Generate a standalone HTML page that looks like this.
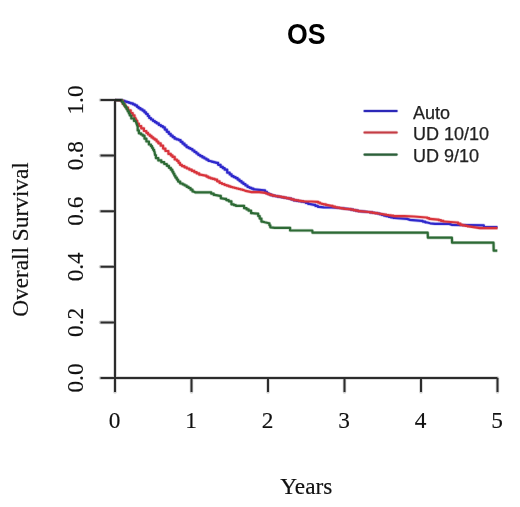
<!DOCTYPE html>
<html><head><meta charset="utf-8"><title>OS</title>
<style>html,body{margin:0;padding:0;background:#fff;width:520px;height:507px;overflow:hidden}svg{display:block;will-change:transform}</style>
</head><body>
<svg width="520" height="507" viewBox="0 0 520 507"><rect width="520" height="507" fill="#fff"/><text transform="translate(306.3,43.7) scale(0.97,1.05)" x="0" y="0" font-family="Liberation Sans, sans-serif" font-weight="bold" font-size="27.5" text-anchor="middle" fill="#000">OS</text><path d="M115.0 378.0H497.5M115.0 100.0V378.0M115.0 378.0V392M191.5 378.0V392M268.0 378.0V392M344.5 378.0V392M421.0 378.0V392M497.5 378.0V392M100.5 378.0H115.0M100.5 322.4H115.0M100.5 266.8H115.0M100.5 211.2H115.0M100.5 155.6H115.0M100.5 100.0H115.0" stroke="#2c2c2c" stroke-opacity="0.22" stroke-width="3.6" fill="none" stroke-linecap="round"/><path d="M115.0 378.0H497.5M115.0 100.0V378.0M115.0 378.0V392M191.5 378.0V392M268.0 378.0V392M344.5 378.0V392M421.0 378.0V392M497.5 378.0V392M100.5 378.0H115.0M100.5 322.4H115.0M100.5 266.8H115.0M100.5 211.2H115.0M100.5 155.6H115.0M100.5 100.0H115.0" stroke="#2c2c2c" stroke-width="2.0" fill="none" stroke-linecap="butt"/><g font-family="Liberation Serif, serif" font-size="23.3" text-anchor="middle" fill="#111" stroke="#111" stroke-width="0.15"><text x="114.5" y="427.8">0</text><text x="191.0" y="427.8">1</text><text x="267.5" y="427.8">2</text><text x="344.0" y="427.8">3</text><text x="420.5" y="427.8">4</text><text x="497.0" y="427.8">5</text><text transform="translate(82.6,378.0) rotate(-90)" x="0" y="0">0.0</text><text transform="translate(82.6,322.4) rotate(-90)" x="0" y="0">0.2</text><text transform="translate(82.6,266.8) rotate(-90)" x="0" y="0">0.4</text><text transform="translate(82.6,211.2) rotate(-90)" x="0" y="0">0.6</text><text transform="translate(82.6,155.6) rotate(-90)" x="0" y="0">0.8</text><text transform="translate(82.6,100.0) rotate(-90)" x="0" y="0">1.0</text><text transform="translate(306.3,494)" x="0" y="0">Years</text><text transform="translate(27.8,239.5) rotate(-90)" x="0" y="0">Overall Survival</text></g><polyline points="115.0,100.0 121.0,100.0 122.2,100.0 122.2,100.8 123.5,100.8 124.7,100.8 124.7,101.6 125.9,101.6 126.9,101.6 126.9,102.2 127.9,102.2 128.9,102.2 128.9,102.8 129.8,102.8 130.8,102.8 130.8,103.4 131.8,103.4 132.9,103.4 132.9,104.3 133.9,104.3 134.9,104.3 134.9,105.3 136.0,105.3 136.9,105.3 136.9,106.8 137.8,106.8 138.6,106.8 138.6,108.2 139.5,108.2 140.5,108.2 140.5,109.4 141.5,109.4 142.5,109.4 142.5,110.6 143.5,110.6 144.4,110.6 144.4,112.3 145.2,112.3 146.1,112.3 146.1,114.0 147.0,114.0 147.8,114.0 147.8,116.0 148.5,116.0 149.2,116.0 149.2,118.0 150.0,118.0 151.0,118.0 151.0,119.5 152.0,119.5 153.0,119.5 153.0,121.0 154.0,121.0 154.9,121.0 154.9,122.2 155.8,122.2 156.6,122.2 156.6,123.3 157.5,123.3 158.8,123.3 158.8,125.0 160.0,125.0 160.9,125.0 160.9,126.2 161.9,126.2 162.9,126.2 162.9,127.3 163.8,127.3 164.8,127.3 164.8,129.6 165.8,129.6 166.8,129.6 166.8,131.8 167.8,131.8 168.8,131.8 168.8,133.8 169.8,133.8 170.7,133.8 170.7,135.7 171.7,135.7 172.7,135.7 172.7,137.2 173.6,137.2 174.6,137.2 174.6,138.7 175.6,138.7 176.6,138.7 176.6,139.4 177.6,139.4 178.6,139.4 178.6,140.1 179.6,140.1 180.6,140.1 180.6,141.8 181.6,141.8 182.5,141.8 182.5,143.6 183.5,143.6 184.5,143.6 184.5,145.3 185.5,145.3 186.5,145.3 186.5,147.1 187.5,147.1 188.5,147.1 188.5,148.1 189.4,148.1 190.4,148.1 190.4,149.0 191.4,149.0 192.4,149.0 192.4,150.5 193.4,150.5 194.4,150.5 194.4,152.0 195.4,152.0 196.4,152.0 196.4,153.5 197.4,153.5 198.3,153.5 198.3,155.0 199.3,155.0 200.3,155.0 200.3,156.2 201.4,156.2 202.4,156.2 202.4,157.4 203.4,157.4 204.4,157.4 204.4,158.5 205.4,158.5 206.4,158.5 206.4,159.7 207.3,159.7 208.3,159.7 208.3,160.8 209.3,160.8 210.9,161.3 211.9,161.3 211.9,161.8 212.9,161.8 213.9,161.8 213.9,162.3 214.8,162.3 215.8,162.3 215.8,162.8 216.8,162.8 218.1,162.8 218.1,164.8 219.3,164.8 220.6,164.8 220.6,166.8 221.8,166.8 222.8,166.8 222.8,168.2 223.8,168.2 224.7,168.2 224.7,169.7 225.7,169.7 227.2,169.7 227.2,172.7 228.7,172.7 229.7,172.7 229.7,174.4 230.6,174.4 231.6,174.4 231.6,176.1 232.6,176.1 233.6,176.1 233.6,177.1 234.6,177.1 235.6,177.1 235.6,178.1 236.6,178.1 237.6,178.1 237.6,179.6 238.6,179.6 239.5,179.6 239.5,181.1 240.5,181.1 241.5,181.1 241.5,182.6 242.4,182.6 243.4,182.6 243.4,184.0 244.4,184.0 245.4,184.0 245.4,185.5 246.4,185.5 247.5,185.5 247.5,187.0 248.5,187.0 249.5,187.0 249.5,187.8 250.5,187.8 251.4,187.8 251.4,188.6 252.4,188.6 253.4,188.6 253.4,189.4 254.4,189.4 259.2,189.9 264.0,190.4 265.0,190.4 265.0,191.9 265.9,191.9 266.9,191.9 266.9,193.3 267.9,193.3 268.8,193.3 268.8,194.2 269.8,194.2 270.8,194.2 270.8,195.2 271.7,195.2 272.8,195.2 272.8,195.7 274.0,195.7 275.1,195.7 275.1,196.1 276.2,196.1 277.4,196.1 277.4,196.6 278.5,196.6 284.2,197.6 290.0,198.6 291.2,198.6 291.2,199.5 292.5,199.5 293.8,199.5 293.8,200.4 295.0,200.4 296.2,200.4 296.2,200.8 297.4,200.8 298.6,200.8 298.6,201.2 299.8,201.2 301.0,201.2 301.0,201.6 302.2,201.6 303.4,201.6 303.4,202.0 304.6,202.0 305.8,202.0 305.8,202.9 307.0,202.9 308.2,202.9 308.2,203.9 309.4,203.9 314.2,204.9 315.4,204.9 315.4,205.9 316.6,205.9 317.8,205.9 317.8,206.8 319.0,206.8 323.8,207.3 331.5,207.5 340.0,208.0 349.6,209.1 350.8,209.1 350.8,209.6 352.0,209.6 353.2,209.6 353.2,210.1 354.4,210.1 355.6,210.1 355.6,210.6 356.8,210.6 358.0,210.6 358.0,211.1 359.2,211.1 368.8,212.0 370.0,212.0 370.0,212.4 371.2,212.4 372.4,212.4 372.4,212.8 373.6,212.8 374.9,212.8 374.9,213.1 376.1,213.1 377.3,213.1 377.3,213.5 378.5,213.5 379.6,213.5 379.6,214.2 380.7,214.2 381.8,214.2 381.8,214.9 382.8,214.9 383.9,214.9 383.9,215.6 385.0,215.6 386.2,215.6 386.2,216.2 387.4,216.2 388.6,216.2 388.6,216.8 389.8,216.8 391.0,216.8 391.0,217.4 392.2,217.4 393.4,217.4 393.4,218.0 394.6,218.0 407.1,218.9 410.0,219.9 421.5,220.9 422.7,220.9 422.7,221.6 423.9,221.6 425.1,221.6 425.1,222.3 426.3,222.3 430.2,223.3 435.0,223.8 449.2,223.9 452.1,224.9 483.8,225.4 484.0,227.1 497.5,227.1" fill="none" stroke="#2e28cc" stroke-opacity="0.25" stroke-width="3.6" stroke-linejoin="round"/><polyline points="115.0,100.0 121.0,100.0 122.2,100.0 122.2,100.8 123.5,100.8 124.7,100.8 124.7,101.6 125.9,101.6 126.9,101.6 126.9,102.2 127.9,102.2 128.9,102.2 128.9,102.8 129.8,102.8 130.8,102.8 130.8,103.4 131.8,103.4 132.9,103.4 132.9,104.3 133.9,104.3 134.9,104.3 134.9,105.3 136.0,105.3 136.9,105.3 136.9,106.8 137.8,106.8 138.6,106.8 138.6,108.2 139.5,108.2 140.5,108.2 140.5,109.4 141.5,109.4 142.5,109.4 142.5,110.6 143.5,110.6 144.4,110.6 144.4,112.3 145.2,112.3 146.1,112.3 146.1,114.0 147.0,114.0 147.8,114.0 147.8,116.0 148.5,116.0 149.2,116.0 149.2,118.0 150.0,118.0 151.0,118.0 151.0,119.5 152.0,119.5 153.0,119.5 153.0,121.0 154.0,121.0 154.9,121.0 154.9,122.2 155.8,122.2 156.6,122.2 156.6,123.3 157.5,123.3 158.8,123.3 158.8,125.0 160.0,125.0 160.9,125.0 160.9,126.2 161.9,126.2 162.9,126.2 162.9,127.3 163.8,127.3 164.8,127.3 164.8,129.6 165.8,129.6 166.8,129.6 166.8,131.8 167.8,131.8 168.8,131.8 168.8,133.8 169.8,133.8 170.7,133.8 170.7,135.7 171.7,135.7 172.7,135.7 172.7,137.2 173.6,137.2 174.6,137.2 174.6,138.7 175.6,138.7 176.6,138.7 176.6,139.4 177.6,139.4 178.6,139.4 178.6,140.1 179.6,140.1 180.6,140.1 180.6,141.8 181.6,141.8 182.5,141.8 182.5,143.6 183.5,143.6 184.5,143.6 184.5,145.3 185.5,145.3 186.5,145.3 186.5,147.1 187.5,147.1 188.5,147.1 188.5,148.1 189.4,148.1 190.4,148.1 190.4,149.0 191.4,149.0 192.4,149.0 192.4,150.5 193.4,150.5 194.4,150.5 194.4,152.0 195.4,152.0 196.4,152.0 196.4,153.5 197.4,153.5 198.3,153.5 198.3,155.0 199.3,155.0 200.3,155.0 200.3,156.2 201.4,156.2 202.4,156.2 202.4,157.4 203.4,157.4 204.4,157.4 204.4,158.5 205.4,158.5 206.4,158.5 206.4,159.7 207.3,159.7 208.3,159.7 208.3,160.8 209.3,160.8 210.9,161.3 211.9,161.3 211.9,161.8 212.9,161.8 213.9,161.8 213.9,162.3 214.8,162.3 215.8,162.3 215.8,162.8 216.8,162.8 218.1,162.8 218.1,164.8 219.3,164.8 220.6,164.8 220.6,166.8 221.8,166.8 222.8,166.8 222.8,168.2 223.8,168.2 224.7,168.2 224.7,169.7 225.7,169.7 227.2,169.7 227.2,172.7 228.7,172.7 229.7,172.7 229.7,174.4 230.6,174.4 231.6,174.4 231.6,176.1 232.6,176.1 233.6,176.1 233.6,177.1 234.6,177.1 235.6,177.1 235.6,178.1 236.6,178.1 237.6,178.1 237.6,179.6 238.6,179.6 239.5,179.6 239.5,181.1 240.5,181.1 241.5,181.1 241.5,182.6 242.4,182.6 243.4,182.6 243.4,184.0 244.4,184.0 245.4,184.0 245.4,185.5 246.4,185.5 247.5,185.5 247.5,187.0 248.5,187.0 249.5,187.0 249.5,187.8 250.5,187.8 251.4,187.8 251.4,188.6 252.4,188.6 253.4,188.6 253.4,189.4 254.4,189.4 259.2,189.9 264.0,190.4 265.0,190.4 265.0,191.9 265.9,191.9 266.9,191.9 266.9,193.3 267.9,193.3 268.8,193.3 268.8,194.2 269.8,194.2 270.8,194.2 270.8,195.2 271.7,195.2 272.8,195.2 272.8,195.7 274.0,195.7 275.1,195.7 275.1,196.1 276.2,196.1 277.4,196.1 277.4,196.6 278.5,196.6 284.2,197.6 290.0,198.6 291.2,198.6 291.2,199.5 292.5,199.5 293.8,199.5 293.8,200.4 295.0,200.4 296.2,200.4 296.2,200.8 297.4,200.8 298.6,200.8 298.6,201.2 299.8,201.2 301.0,201.2 301.0,201.6 302.2,201.6 303.4,201.6 303.4,202.0 304.6,202.0 305.8,202.0 305.8,202.9 307.0,202.9 308.2,202.9 308.2,203.9 309.4,203.9 314.2,204.9 315.4,204.9 315.4,205.9 316.6,205.9 317.8,205.9 317.8,206.8 319.0,206.8 323.8,207.3 331.5,207.5 340.0,208.0 349.6,209.1 350.8,209.1 350.8,209.6 352.0,209.6 353.2,209.6 353.2,210.1 354.4,210.1 355.6,210.1 355.6,210.6 356.8,210.6 358.0,210.6 358.0,211.1 359.2,211.1 368.8,212.0 370.0,212.0 370.0,212.4 371.2,212.4 372.4,212.4 372.4,212.8 373.6,212.8 374.9,212.8 374.9,213.1 376.1,213.1 377.3,213.1 377.3,213.5 378.5,213.5 379.6,213.5 379.6,214.2 380.7,214.2 381.8,214.2 381.8,214.9 382.8,214.9 383.9,214.9 383.9,215.6 385.0,215.6 386.2,215.6 386.2,216.2 387.4,216.2 388.6,216.2 388.6,216.8 389.8,216.8 391.0,216.8 391.0,217.4 392.2,217.4 393.4,217.4 393.4,218.0 394.6,218.0 407.1,218.9 410.0,219.9 421.5,220.9 422.7,220.9 422.7,221.6 423.9,221.6 425.1,221.6 425.1,222.3 426.3,222.3 430.2,223.3 435.0,223.8 449.2,223.9 452.1,224.9 483.8,225.4 484.0,227.1 497.5,227.1" fill="none" stroke="#2e28cc" stroke-width="2.2" stroke-linejoin="round"/><polyline points="115.0,100.0 121.5,100.5 122.7,100.5 122.7,103.8 123.8,103.8 124.5,103.8 124.5,105.7 125.2,105.7 125.8,105.7 125.8,107.5 126.5,107.5 128.0,107.5 128.0,110.3 129.5,110.3 130.7,110.3 130.7,113.0 131.8,113.0 132.7,113.0 132.7,115.4 133.6,115.4 134.5,115.4 134.5,117.8 135.4,117.8 136.6,120.7 137.2,120.7 137.2,123.7 137.8,123.7 138.9,123.7 138.9,126.0 140.1,126.0 141.2,126.0 141.2,128.3 142.3,128.3 143.9,128.3 143.9,131.0 145.4,131.0 146.3,131.0 146.3,132.8 147.2,132.8 148.0,132.8 148.0,134.5 148.9,134.5 149.8,134.5 149.8,135.9 150.6,135.9 151.5,135.9 151.5,137.4 152.3,137.4 153.2,137.4 153.2,138.6 154.0,138.6 154.8,138.6 154.8,139.7 155.7,139.7 156.6,139.7 156.6,141.5 157.4,141.5 158.3,141.5 158.3,143.3 159.2,143.3 160.7,143.3 160.7,145.7 162.2,145.7 163.1,145.7 163.1,148.6 163.9,148.6 165.4,148.6 165.4,151.0 166.9,151.0 168.4,151.0 168.4,153.9 169.9,153.9 170.8,153.9 170.8,155.4 171.7,155.4 172.5,155.4 172.5,156.9 173.4,156.9 174.7,156.9 174.7,159.5 176.0,159.5 176.9,159.5 176.9,160.8 177.8,160.8 178.5,160.8 178.5,162.8 179.2,162.8 180.0,162.8 180.0,164.8 180.7,164.8 181.9,164.8 181.9,166.1 183.1,166.1 184.4,166.1 184.4,167.3 185.6,167.3 186.8,167.3 186.8,168.5 188.1,168.5 189.3,168.5 189.3,169.7 190.6,169.7 191.8,169.7 191.8,170.9 193.1,170.9 194.3,170.9 194.3,172.2 195.5,172.2 196.7,172.2 196.7,173.4 197.9,173.4 199.2,173.4 199.2,174.7 200.4,174.7 205.4,175.6 206.4,175.6 206.4,176.6 207.4,176.6 208.3,176.6 208.3,177.6 209.3,177.6 210.4,177.6 210.4,178.3 211.5,178.3 212.6,178.3 212.6,178.9 213.6,178.9 214.7,178.9 214.7,179.6 215.8,179.6 217.1,179.6 217.1,181.3 218.3,181.3 219.6,181.3 219.6,183.0 220.8,183.0 222.0,183.0 222.0,184.0 223.2,184.0 224.5,184.0 224.5,185.0 225.7,185.0 226.7,185.0 226.7,185.7 227.7,185.7 228.6,185.7 228.6,186.3 229.6,186.3 230.6,186.3 230.6,187.0 231.6,187.0 232.6,187.0 232.6,187.5 233.6,187.5 234.6,187.5 234.6,188.0 235.5,188.0 236.5,188.0 236.5,188.5 237.5,188.5 238.5,188.5 238.5,189.0 239.5,189.0 240.5,189.0 240.5,189.5 241.5,189.5 242.5,189.5 242.5,190.0 243.5,190.0 245.8,190.9 251.5,192.1 259.2,192.1 265.0,192.8 265.9,192.8 265.9,193.5 266.9,193.5 267.9,193.5 267.9,194.2 268.8,194.2 270.0,194.2 270.0,194.9 271.2,194.9 272.5,194.9 272.5,195.6 273.7,195.6 274.8,195.6 274.8,196.0 275.9,196.0 277.0,196.0 277.0,196.3 278.1,196.3 279.2,196.3 279.2,196.7 280.3,196.7 281.4,196.7 281.4,197.1 282.5,197.1 283.8,197.1 283.8,197.6 285.0,197.6 286.2,197.6 286.2,198.1 287.5,198.1 288.8,198.1 288.8,198.6 290.0,198.6 291.2,198.6 291.2,199.3 292.5,199.3 293.8,199.3 293.8,200.1 295.0,200.1 296.2,200.1 296.2,200.4 297.4,200.4 298.6,200.4 298.6,200.8 299.8,200.8 301.0,200.8 301.0,201.2 302.2,201.2 303.4,201.2 303.4,201.5 304.6,201.5 311.3,201.5 317.1,201.8 318.1,201.8 318.1,202.7 319.1,202.7 320.0,202.7 320.0,203.5 321.0,203.5 321.9,203.5 321.9,204.0 322.9,204.0 323.9,204.0 323.9,204.4 324.8,204.4 325.8,204.4 325.8,204.9 326.7,204.9 331.5,205.9 332.7,205.9 332.7,206.6 333.9,206.6 335.1,206.6 335.1,207.3 336.3,207.3 337.4,207.3 337.4,207.7 338.5,207.7 339.6,207.7 339.6,208.1 340.6,208.1 341.7,208.1 341.7,208.4 342.8,208.4 343.9,208.4 343.9,208.8 345.0,208.8 349.6,209.1 350.8,209.1 350.8,209.6 352.0,209.6 353.2,209.6 353.2,210.1 354.4,210.1 355.6,210.1 355.6,210.6 356.8,210.6 358.0,210.6 358.0,211.1 359.2,211.1 368.8,212.0 370.0,212.0 370.0,212.4 371.2,212.4 372.4,212.4 372.4,212.8 373.6,212.8 374.9,212.8 374.9,213.1 376.1,213.1 377.3,213.1 377.3,213.5 378.5,213.5 385.0,214.6 386.2,214.6 386.2,215.0 387.4,215.0 388.6,215.0 388.6,215.3 389.8,215.3 391.0,215.3 391.0,215.7 392.2,215.7 393.4,215.7 393.4,216.1 394.6,216.1 404.2,216.1 413.8,216.5 426.3,217.5 427.3,217.5 427.3,218.2 428.2,218.2 429.2,218.2 429.2,218.9 430.2,218.9 437.7,219.6 438.8,219.6 438.8,220.2 439.9,220.2 441.0,220.2 441.0,220.9 442.2,220.9 443.3,220.9 443.3,221.5 444.4,221.5 456.9,222.5 458.1,222.5 458.1,223.7 459.3,223.7 460.5,223.7 460.5,224.9 461.7,224.9 462.8,224.9 462.8,225.4 464.0,225.4 465.1,225.4 465.1,225.8 466.2,225.8 467.4,225.8 467.4,226.3 468.5,226.3 475.2,227.3 480.0,228.1 497.5,228.1" fill="none" stroke="#d8343c" stroke-opacity="0.25" stroke-width="3.6" stroke-linejoin="round"/><polyline points="115.0,100.0 121.5,100.5 122.7,100.5 122.7,103.8 123.8,103.8 124.5,103.8 124.5,105.7 125.2,105.7 125.8,105.7 125.8,107.5 126.5,107.5 128.0,107.5 128.0,110.3 129.5,110.3 130.7,110.3 130.7,113.0 131.8,113.0 132.7,113.0 132.7,115.4 133.6,115.4 134.5,115.4 134.5,117.8 135.4,117.8 136.6,120.7 137.2,120.7 137.2,123.7 137.8,123.7 138.9,123.7 138.9,126.0 140.1,126.0 141.2,126.0 141.2,128.3 142.3,128.3 143.9,128.3 143.9,131.0 145.4,131.0 146.3,131.0 146.3,132.8 147.2,132.8 148.0,132.8 148.0,134.5 148.9,134.5 149.8,134.5 149.8,135.9 150.6,135.9 151.5,135.9 151.5,137.4 152.3,137.4 153.2,137.4 153.2,138.6 154.0,138.6 154.8,138.6 154.8,139.7 155.7,139.7 156.6,139.7 156.6,141.5 157.4,141.5 158.3,141.5 158.3,143.3 159.2,143.3 160.7,143.3 160.7,145.7 162.2,145.7 163.1,145.7 163.1,148.6 163.9,148.6 165.4,148.6 165.4,151.0 166.9,151.0 168.4,151.0 168.4,153.9 169.9,153.9 170.8,153.9 170.8,155.4 171.7,155.4 172.5,155.4 172.5,156.9 173.4,156.9 174.7,156.9 174.7,159.5 176.0,159.5 176.9,159.5 176.9,160.8 177.8,160.8 178.5,160.8 178.5,162.8 179.2,162.8 180.0,162.8 180.0,164.8 180.7,164.8 181.9,164.8 181.9,166.1 183.1,166.1 184.4,166.1 184.4,167.3 185.6,167.3 186.8,167.3 186.8,168.5 188.1,168.5 189.3,168.5 189.3,169.7 190.6,169.7 191.8,169.7 191.8,170.9 193.1,170.9 194.3,170.9 194.3,172.2 195.5,172.2 196.7,172.2 196.7,173.4 197.9,173.4 199.2,173.4 199.2,174.7 200.4,174.7 205.4,175.6 206.4,175.6 206.4,176.6 207.4,176.6 208.3,176.6 208.3,177.6 209.3,177.6 210.4,177.6 210.4,178.3 211.5,178.3 212.6,178.3 212.6,178.9 213.6,178.9 214.7,178.9 214.7,179.6 215.8,179.6 217.1,179.6 217.1,181.3 218.3,181.3 219.6,181.3 219.6,183.0 220.8,183.0 222.0,183.0 222.0,184.0 223.2,184.0 224.5,184.0 224.5,185.0 225.7,185.0 226.7,185.0 226.7,185.7 227.7,185.7 228.6,185.7 228.6,186.3 229.6,186.3 230.6,186.3 230.6,187.0 231.6,187.0 232.6,187.0 232.6,187.5 233.6,187.5 234.6,187.5 234.6,188.0 235.5,188.0 236.5,188.0 236.5,188.5 237.5,188.5 238.5,188.5 238.5,189.0 239.5,189.0 240.5,189.0 240.5,189.5 241.5,189.5 242.5,189.5 242.5,190.0 243.5,190.0 245.8,190.9 251.5,192.1 259.2,192.1 265.0,192.8 265.9,192.8 265.9,193.5 266.9,193.5 267.9,193.5 267.9,194.2 268.8,194.2 270.0,194.2 270.0,194.9 271.2,194.9 272.5,194.9 272.5,195.6 273.7,195.6 274.8,195.6 274.8,196.0 275.9,196.0 277.0,196.0 277.0,196.3 278.1,196.3 279.2,196.3 279.2,196.7 280.3,196.7 281.4,196.7 281.4,197.1 282.5,197.1 283.8,197.1 283.8,197.6 285.0,197.6 286.2,197.6 286.2,198.1 287.5,198.1 288.8,198.1 288.8,198.6 290.0,198.6 291.2,198.6 291.2,199.3 292.5,199.3 293.8,199.3 293.8,200.1 295.0,200.1 296.2,200.1 296.2,200.4 297.4,200.4 298.6,200.4 298.6,200.8 299.8,200.8 301.0,200.8 301.0,201.2 302.2,201.2 303.4,201.2 303.4,201.5 304.6,201.5 311.3,201.5 317.1,201.8 318.1,201.8 318.1,202.7 319.1,202.7 320.0,202.7 320.0,203.5 321.0,203.5 321.9,203.5 321.9,204.0 322.9,204.0 323.9,204.0 323.9,204.4 324.8,204.4 325.8,204.4 325.8,204.9 326.7,204.9 331.5,205.9 332.7,205.9 332.7,206.6 333.9,206.6 335.1,206.6 335.1,207.3 336.3,207.3 337.4,207.3 337.4,207.7 338.5,207.7 339.6,207.7 339.6,208.1 340.6,208.1 341.7,208.1 341.7,208.4 342.8,208.4 343.9,208.4 343.9,208.8 345.0,208.8 349.6,209.1 350.8,209.1 350.8,209.6 352.0,209.6 353.2,209.6 353.2,210.1 354.4,210.1 355.6,210.1 355.6,210.6 356.8,210.6 358.0,210.6 358.0,211.1 359.2,211.1 368.8,212.0 370.0,212.0 370.0,212.4 371.2,212.4 372.4,212.4 372.4,212.8 373.6,212.8 374.9,212.8 374.9,213.1 376.1,213.1 377.3,213.1 377.3,213.5 378.5,213.5 385.0,214.6 386.2,214.6 386.2,215.0 387.4,215.0 388.6,215.0 388.6,215.3 389.8,215.3 391.0,215.3 391.0,215.7 392.2,215.7 393.4,215.7 393.4,216.1 394.6,216.1 404.2,216.1 413.8,216.5 426.3,217.5 427.3,217.5 427.3,218.2 428.2,218.2 429.2,218.2 429.2,218.9 430.2,218.9 437.7,219.6 438.8,219.6 438.8,220.2 439.9,220.2 441.0,220.2 441.0,220.9 442.2,220.9 443.3,220.9 443.3,221.5 444.4,221.5 456.9,222.5 458.1,222.5 458.1,223.7 459.3,223.7 460.5,223.7 460.5,224.9 461.7,224.9 462.8,224.9 462.8,225.4 464.0,225.4 465.1,225.4 465.1,225.8 466.2,225.8 467.4,225.8 467.4,226.3 468.5,226.3 475.2,227.3 480.0,228.1 497.5,228.1" fill="none" stroke="#d8343c" stroke-width="2.2" stroke-linejoin="round"/><polyline points="115.0,100.0 121.0,100.0 121.7,100.0 121.7,101.8 122.3,101.8 123.0,101.8 123.0,103.7 123.7,103.7 124.3,103.7 124.3,105.5 124.8,105.5 125.4,105.5 125.4,107.2 126.0,107.2 126.6,107.2 126.6,109.3 127.2,109.3 127.8,109.3 127.8,111.4 128.4,111.4 128.9,111.4 128.9,113.5 129.3,113.5 129.8,113.5 129.8,115.5 130.2,115.5 131.3,115.5 131.3,118.5 132.5,118.5 134.0,118.5 134.0,120.9 135.5,120.9 136.5,123.3 137.7,126.8 137.7,130.4 138.9,130.4 138.9,133.3 140.1,133.3 141.0,133.3 141.0,134.5 141.8,134.5 142.7,134.5 142.7,135.7 143.6,135.7 144.5,135.7 144.5,138.7 145.4,138.7 146.4,138.7 146.4,141.5 147.4,141.5 148.9,141.5 148.9,144.5 150.3,144.5 150.9,144.5 150.9,146.2 151.5,146.2 152.1,146.2 152.1,148.0 152.7,148.0 153.1,148.0 153.1,149.8 153.6,149.8 154.1,149.8 154.1,151.6 154.5,151.6 155.1,155.1 155.9,155.1 155.9,158.1 156.8,158.1 158.3,158.1 158.3,160.4 159.8,160.4 161.3,160.4 161.3,162.2 162.8,162.2 164.2,162.2 164.2,164.0 165.7,164.0 166.8,164.0 166.8,165.8 167.9,165.8 168.9,165.8 168.9,167.8 169.9,167.8 170.8,167.8 170.8,169.7 171.8,169.7 172.3,169.7 172.3,171.7 172.8,171.7 173.3,171.7 173.3,173.6 173.8,173.6 174.3,173.6 174.3,175.6 174.8,175.6 175.4,175.6 175.4,177.6 176.1,177.6 176.8,177.6 176.8,179.6 177.4,179.6 178.1,179.6 178.1,181.6 178.7,181.6 180.2,181.6 180.2,183.5 181.7,183.5 182.7,183.5 182.7,184.5 183.6,184.5 184.6,184.5 184.6,185.5 185.6,185.5 186.6,185.5 186.6,186.8 187.6,186.8 188.6,186.8 188.6,188.0 189.6,188.0 190.6,188.0 190.6,189.7 191.6,189.7 192.5,189.7 192.5,191.4 193.5,191.4 195.5,192.4 209.9,192.4 211.2,192.4 211.2,193.7 212.4,193.7 213.7,193.7 213.7,194.9 214.9,194.9 219.8,195.9 220.8,195.9 220.8,198.3 221.8,198.3 224.9,198.9 226.2,198.9 226.2,200.1 227.4,200.1 228.7,200.1 228.7,201.3 229.9,201.3 231.4,201.3 231.4,204.3 232.8,204.3 233.8,204.3 233.8,205.1 234.8,205.1 235.8,205.1 235.8,205.8 236.8,205.8 242.7,205.8 244.1,205.8 244.1,208.2 245.6,208.2 246.6,208.2 246.6,209.4 247.6,209.4 248.6,209.4 248.6,210.7 249.6,210.7 251.1,210.7 251.1,213.2 252.5,213.2 257.5,213.7 258.2,213.7 258.2,216.1 258.9,216.1 259.7,216.1 259.7,218.6 260.4,218.6 261.4,218.6 261.4,221.6 262.4,221.6 264.9,222.3 268.9,223.3 269.4,223.3 269.4,225.3 269.9,225.3 270.3,225.3 270.3,227.3 270.8,227.3 274.8,227.8 288.6,227.8 290.1,227.8 290.1,230.5 291.6,230.5 312.3,230.5 312.5,232.7 427.7,232.7 427.9,237.7 451.9,237.7 452.1,242.7 493.5,242.7 493.7,250.7 497.3,250.7" fill="none" stroke="#2d6a35" stroke-opacity="0.25" stroke-width="3.6" stroke-linejoin="round"/><polyline points="115.0,100.0 121.0,100.0 121.7,100.0 121.7,101.8 122.3,101.8 123.0,101.8 123.0,103.7 123.7,103.7 124.3,103.7 124.3,105.5 124.8,105.5 125.4,105.5 125.4,107.2 126.0,107.2 126.6,107.2 126.6,109.3 127.2,109.3 127.8,109.3 127.8,111.4 128.4,111.4 128.9,111.4 128.9,113.5 129.3,113.5 129.8,113.5 129.8,115.5 130.2,115.5 131.3,115.5 131.3,118.5 132.5,118.5 134.0,118.5 134.0,120.9 135.5,120.9 136.5,123.3 137.7,126.8 137.7,130.4 138.9,130.4 138.9,133.3 140.1,133.3 141.0,133.3 141.0,134.5 141.8,134.5 142.7,134.5 142.7,135.7 143.6,135.7 144.5,135.7 144.5,138.7 145.4,138.7 146.4,138.7 146.4,141.5 147.4,141.5 148.9,141.5 148.9,144.5 150.3,144.5 150.9,144.5 150.9,146.2 151.5,146.2 152.1,146.2 152.1,148.0 152.7,148.0 153.1,148.0 153.1,149.8 153.6,149.8 154.1,149.8 154.1,151.6 154.5,151.6 155.1,155.1 155.9,155.1 155.9,158.1 156.8,158.1 158.3,158.1 158.3,160.4 159.8,160.4 161.3,160.4 161.3,162.2 162.8,162.2 164.2,162.2 164.2,164.0 165.7,164.0 166.8,164.0 166.8,165.8 167.9,165.8 168.9,165.8 168.9,167.8 169.9,167.8 170.8,167.8 170.8,169.7 171.8,169.7 172.3,169.7 172.3,171.7 172.8,171.7 173.3,171.7 173.3,173.6 173.8,173.6 174.3,173.6 174.3,175.6 174.8,175.6 175.4,175.6 175.4,177.6 176.1,177.6 176.8,177.6 176.8,179.6 177.4,179.6 178.1,179.6 178.1,181.6 178.7,181.6 180.2,181.6 180.2,183.5 181.7,183.5 182.7,183.5 182.7,184.5 183.6,184.5 184.6,184.5 184.6,185.5 185.6,185.5 186.6,185.5 186.6,186.8 187.6,186.8 188.6,186.8 188.6,188.0 189.6,188.0 190.6,188.0 190.6,189.7 191.6,189.7 192.5,189.7 192.5,191.4 193.5,191.4 195.5,192.4 209.9,192.4 211.2,192.4 211.2,193.7 212.4,193.7 213.7,193.7 213.7,194.9 214.9,194.9 219.8,195.9 220.8,195.9 220.8,198.3 221.8,198.3 224.9,198.9 226.2,198.9 226.2,200.1 227.4,200.1 228.7,200.1 228.7,201.3 229.9,201.3 231.4,201.3 231.4,204.3 232.8,204.3 233.8,204.3 233.8,205.1 234.8,205.1 235.8,205.1 235.8,205.8 236.8,205.8 242.7,205.8 244.1,205.8 244.1,208.2 245.6,208.2 246.6,208.2 246.6,209.4 247.6,209.4 248.6,209.4 248.6,210.7 249.6,210.7 251.1,210.7 251.1,213.2 252.5,213.2 257.5,213.7 258.2,213.7 258.2,216.1 258.9,216.1 259.7,216.1 259.7,218.6 260.4,218.6 261.4,218.6 261.4,221.6 262.4,221.6 264.9,222.3 268.9,223.3 269.4,223.3 269.4,225.3 269.9,225.3 270.3,225.3 270.3,227.3 270.8,227.3 274.8,227.8 288.6,227.8 290.1,227.8 290.1,230.5 291.6,230.5 312.3,230.5 312.5,232.7 427.7,232.7 427.9,237.7 451.9,237.7 452.1,242.7 493.5,242.7 493.7,250.7 497.3,250.7" fill="none" stroke="#2d6a35" stroke-width="2.2" stroke-linejoin="round"/><path d="M115 100.2H121.5" stroke="#1f2a22" stroke-width="2.4" fill="none"/><line x1="364.6" y1="111" x2="396.6" y2="111" stroke="#2c28b8" stroke-opacity="0.25" stroke-width="3.4" stroke-linecap="round"/><line x1="364.6" y1="111" x2="396.6" y2="111" stroke="#2c28b8" stroke-width="2.2" stroke-linecap="round"/><line x1="364.6" y1="132.5" x2="396.6" y2="132.5" stroke="#c43c44" stroke-opacity="0.25" stroke-width="3.4" stroke-linecap="round"/><line x1="364.6" y1="132.5" x2="396.6" y2="132.5" stroke="#c43c44" stroke-width="2.2" stroke-linecap="round"/><line x1="364.6" y1="154.6" x2="396.6" y2="154.6" stroke="#2c603a" stroke-opacity="0.25" stroke-width="3.4" stroke-linecap="round"/><line x1="364.6" y1="154.6" x2="396.6" y2="154.6" stroke="#2c603a" stroke-width="2.2" stroke-linecap="round"/><g font-family="Liberation Sans, sans-serif" font-size="18" fill="#222" stroke="#222" stroke-width="0.25"><text x="413" y="118.8">Auto</text><text x="413" y="140.3">UD 10/10</text><text x="413" y="161.8">UD 9/10</text></g></svg>
</body></html>
